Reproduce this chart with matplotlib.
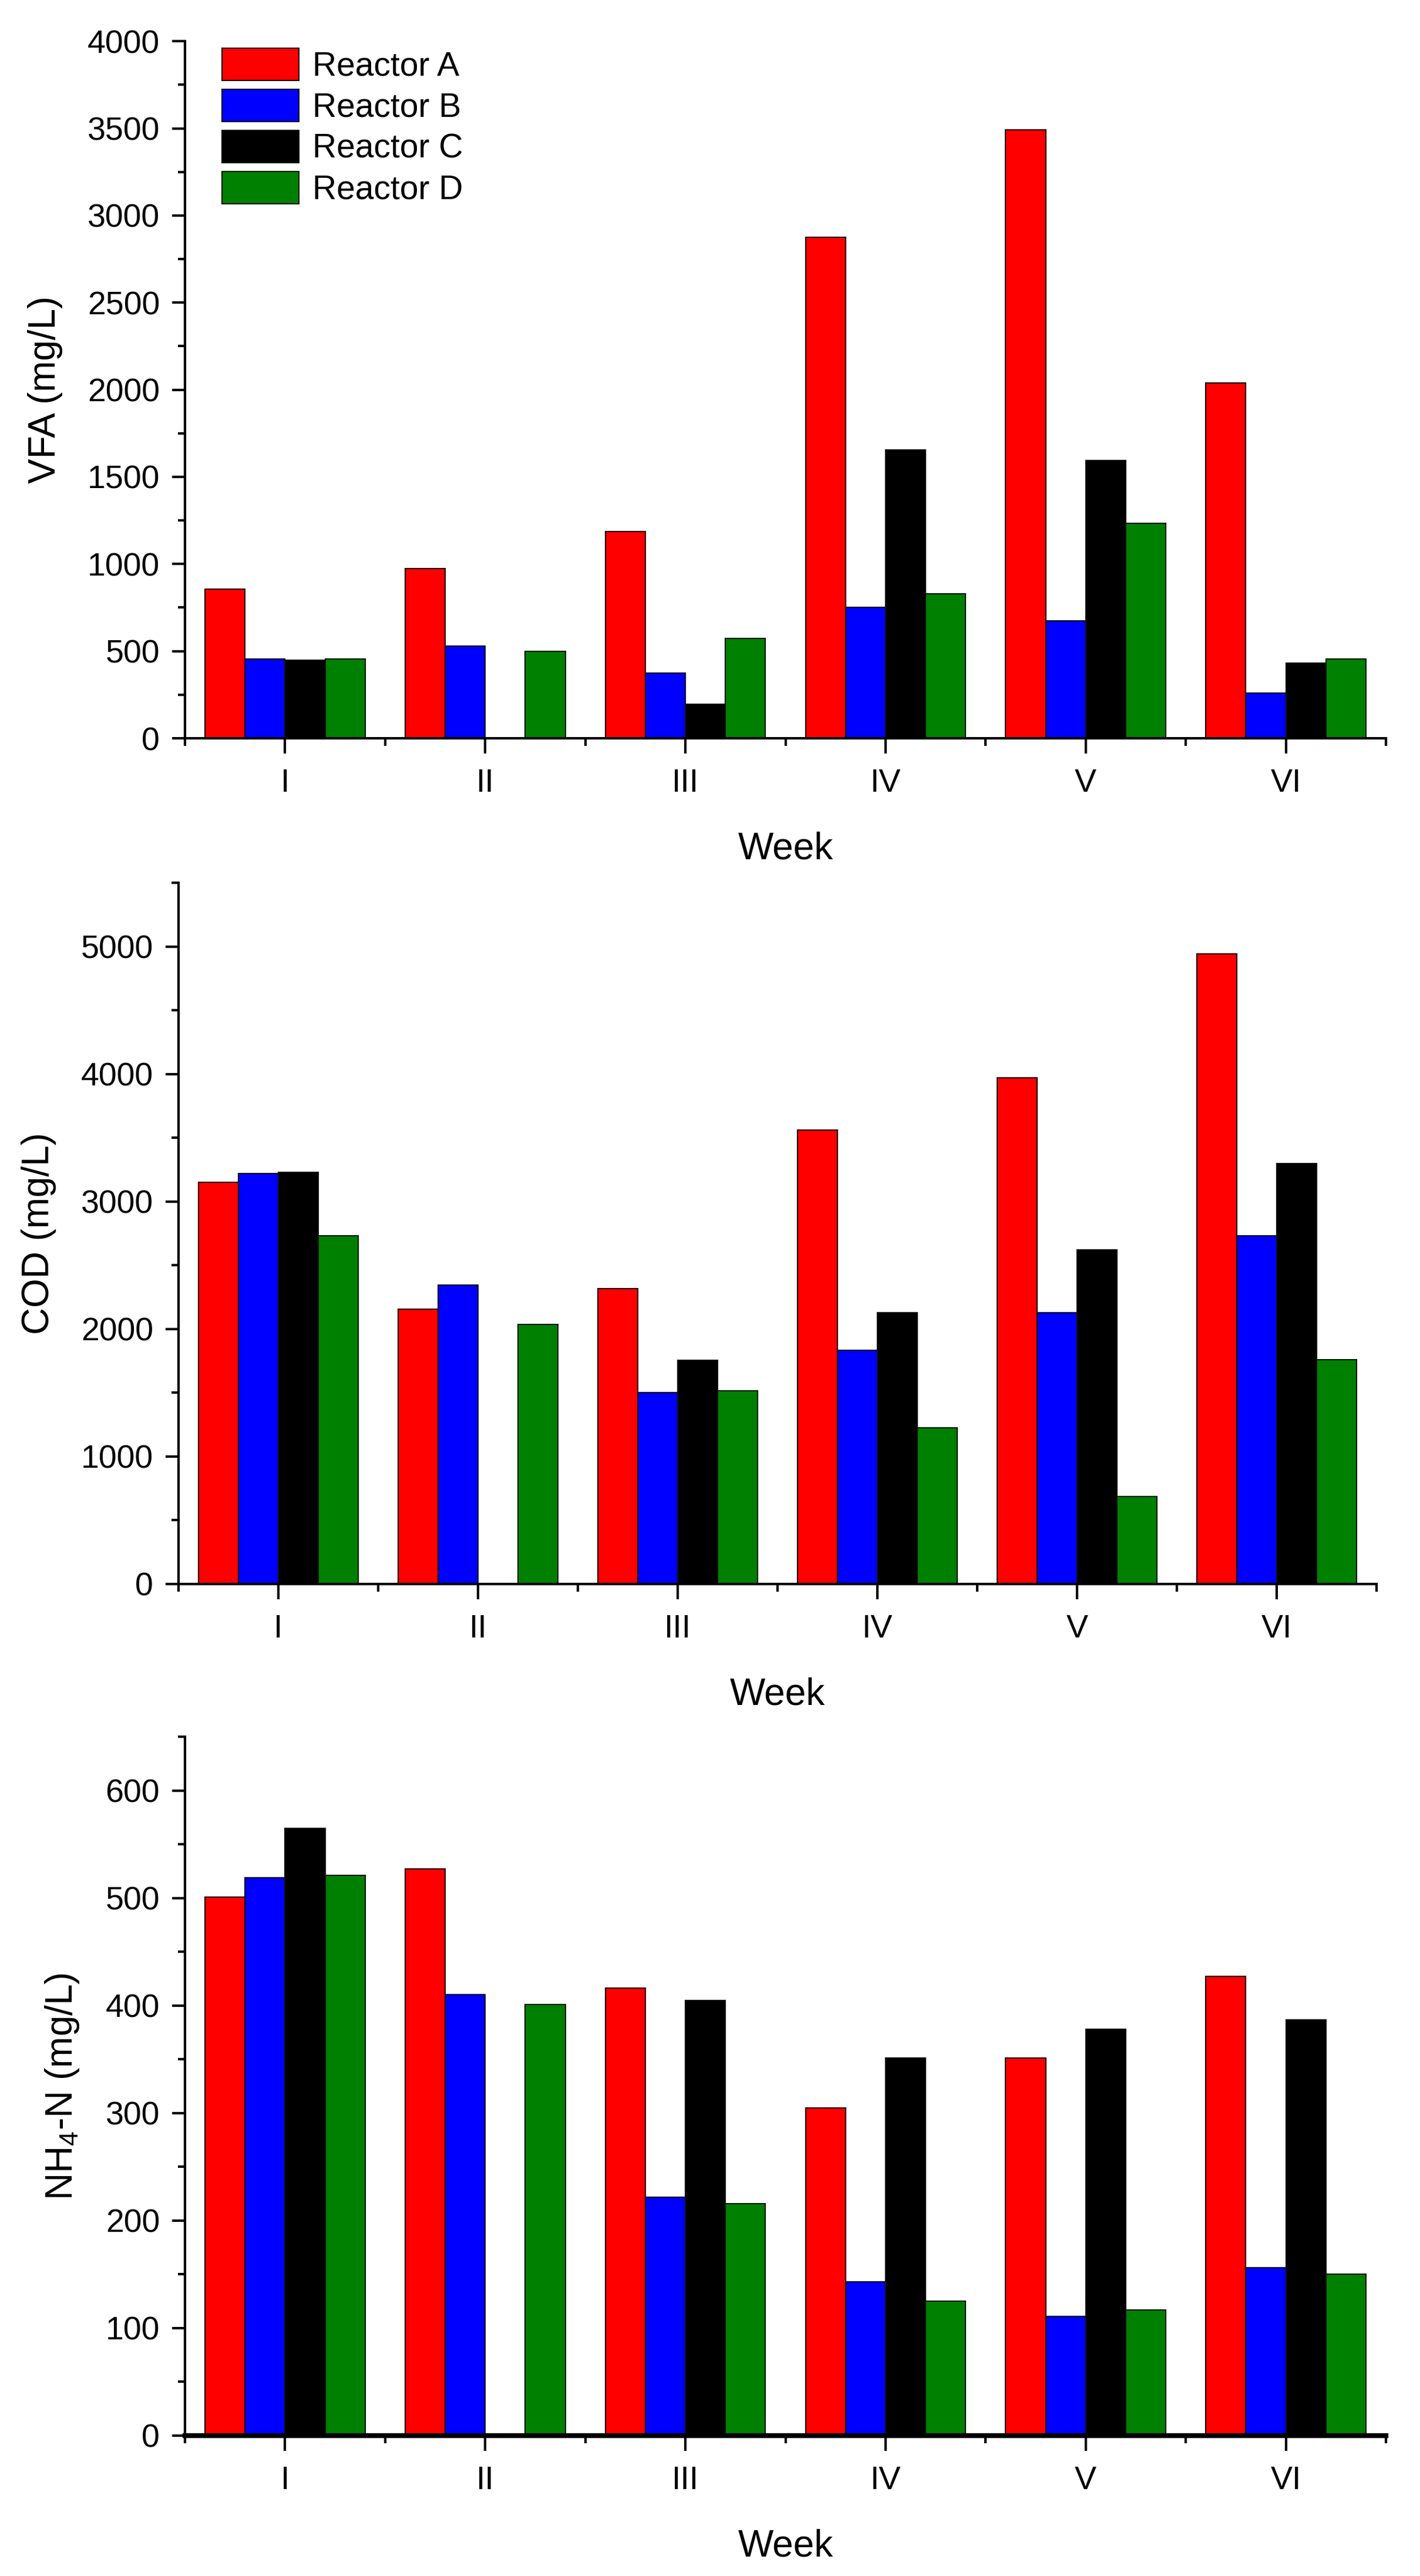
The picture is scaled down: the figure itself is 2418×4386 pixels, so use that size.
import numpy as np
import matplotlib
matplotlib.use("Agg")
import matplotlib.pyplot as plt
from matplotlib.ticker import MultipleLocator

WEEKS = ["I", "II", "III", "IV", "V", "VI"]
REACTORS = ["Reactor A", "Reactor B", "Reactor C", "Reactor D"]
COLORES = ["#ff0000", "#0000ff", "#000000", "#008000"]

# VFA (mg/L), por reactor
vfa_A = [855, 975, 1185, 2875, 3490, 2040]
vfa_B = [455, 530, 375, 750, 675, 260]
vfa_C = [448, 0, 195, 1655, 1595, 430]
vfa_D = [455, 500, 572, 830, 1232, 455]

# COD (mg/L)
cod_A = [3150, 2155, 2315, 3560, 3970, 4945]
cod_B = [3220, 2345, 1500, 1835, 2130, 2730]
cod_C = [3230, 0, 1755, 2130, 2620, 3300]
cod_D = [2730, 2035, 1515, 1225, 685, 1760]

# NH4-N (mg/L)
nh4_A = [501, 527, 416, 305, 351, 427]
nh4_B = [519, 410, 222, 143, 111, 156]
nh4_C = [565, 0, 405, 351, 378, 387]
nh4_D = [521, 401, 216, 125, 117, 150]

## Estilo ploteo
plt.rcParams["font.family"] = ["Liberation Sans", "DejaVu Sans"]
plt.rcParams["mathtext.fontset"] = "custom"
plt.rcParams["mathtext.rm"] = "Liberation Sans"
plt.rcParams["mathtext.it"] = "Liberation Sans"

fig = plt.figure(figsize=(24.18, 43.86), dpi=100)

paneles = [
    ([0.1303, 0.7134, 0.8457, 0.2706], [vfa_A, vfa_B, vfa_C, vfa_D], 4000, 500, 250, "VFA (mg/L)"),
    ([0.1257, 0.3851, 0.8437, 0.2722], [cod_A, cod_B, cod_C, cod_D], 5500, 1000, 500, "COD (mg/L)"),
    ([0.1303, 0.0545, 0.8457, 0.2713], [nh4_A, nh4_B, nh4_C, nh4_D], 650, 100, 50, r"NH$_4$-N (mg/L)"),
]

x = np.arange(1, len(WEEKS) + 1)
w = 0.2

for n, (pos, series, ymax, maj, mnr, ylab) in enumerate(paneles):
    ax = fig.add_axes(pos)
    for i, vals in enumerate(series):
        ax.bar(x + (i - 1.5) * w, vals, width=w, color=COLORES[i],
               edgecolor="#111111", linewidth=1.5, label=REACTORS[i], zorder=2)
    ax.set_xlim(0.5, 6.5)
    ax.set_ylim(0, ymax)
    ax.set_xticks(x)
    ax.set_xticklabels(WEEKS)
    ax.xaxis.set_minor_locator(MultipleLocator(1))
    ax.xaxis.set_minor_locator(plt.FixedLocator(np.arange(0.5, 7, 1)))
    ax.yaxis.set_major_locator(MultipleLocator(maj))
    ax.yaxis.set_minor_locator(MultipleLocator(mnr))
    for s in ["top", "right"]:
        ax.spines[s].set_visible(False)
    for s in ["left", "bottom"]:
        ax.spines[s].set_linewidth(3)
    if n == 2:
        ax.spines["bottom"].set_linewidth(6)
    ax.tick_params(axis="both", which="major", direction="out", width=3, labelsize=40)
    ax.tick_params(axis="y", which="major", length=16, pad=15)
    ax.tick_params(axis="y", which="minor", length=9, width=3)
    ax.tick_params(axis="x", which="major", length=19, pad=18)
    ax.tick_params(axis="x", which="minor", length=9, width=3)
    ax.set_xlabel("Week", fontsize=46, labelpad=40)
    ax.set_ylabel(ylab, fontsize=46, labelpad=30)
    if n == 0:
        ax.legend(loc="upper left", bbox_to_anchor=(0.031, 0.99), frameon=False,
                  fontsize=41, handlelength=2.3, handleheight=1.1,
                  labelspacing=0.2, handletextpad=0.4, borderpad=0, borderaxespad=0)

plt.savefig("out.png", dpi=100)
